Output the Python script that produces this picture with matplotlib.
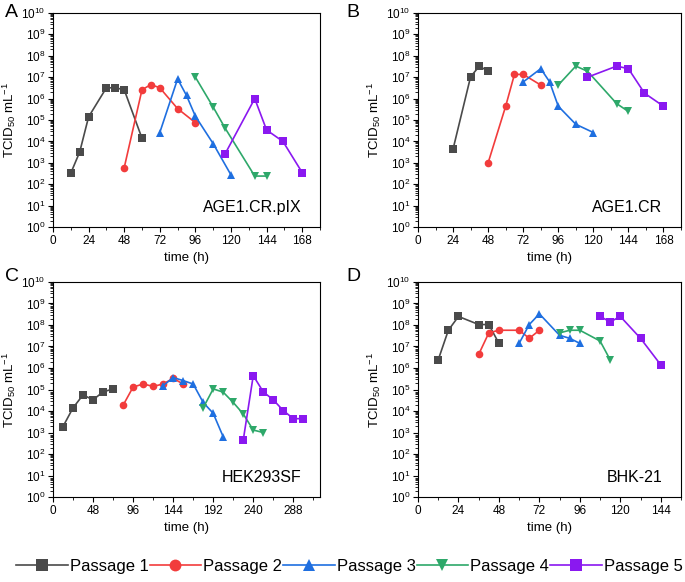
import matplotlib
matplotlib.use("Agg")
import matplotlib.pyplot as plt
from matplotlib.ticker import MultipleLocator, LogLocator, NullFormatter

plt.rcParams['font.family'] = ['Liberation Sans', 'DejaVu Sans']
plt.rcParams['mathtext.fontset'] = 'custom'
plt.rcParams['mathtext.rm'] = 'Liberation Sans'
plt.rcParams['mathtext.it'] = 'Liberation Sans'

passages = ["Passage 1", "Passage 2", "Passage 3", "Passage 4", "Passage 5"]
colors = ["#4a4a4a", "#f23c3c", "#1f6fe0", "#2ea86a", "#8a18f0"]
markers = ["s", "o", "^", "v", "s"]

# Panel A: AGE1.CR.pIX
a_t = [[12, 18, 24, 36, 42, 48, 60],
       [48, 60, 66, 72, 84, 96],
       [72, 84, 90, 96, 108, 120],
       [96, 108, 116, 136, 144],
       [116, 136, 144, 155, 168]]
a_v = [[330, 3200, 1.4e5, 3.2e6, 3.2e6, 2.6e6, 1.4e4],
       [590, 2.6e6, 4.5e6, 3.2e6, 3.4e5, 7.5e4],
       [2.6e4, 8.3e6, 1.4e6, 1.5e5, 7.8e3, 270],
       [1e7, 4e5, 4.2e4, 240, 240],
       [2.6e3, 1e6, 3.4e4, 1e4, 350]]

# Panel B: AGE1.CR
b_t = [[24, 36, 42, 48],
       [48, 60, 66, 72, 84],
       [72, 84, 90, 96, 108, 120],
       [96, 108, 116, 136, 144],
       [116, 136, 144, 155, 168]]
b_v = [[4.4e3, 1.05e7, 3.3e7, 1.9e7],
       [1e3, 4.4e5, 1.35e7, 1.35e7, 4.3e6],
       [6e6, 2.5e7, 6.2e6, 4.4e5, 6.3e4, 2.6e4],
       [4.3e6, 3.3e7, 1.9e7, 5.8e5, 2.5e5],
       [1e7, 3.3e7, 2.5e7, 1.8e6, 4.4e5]]

# Panel C: HEK293SF
c_t = [[12, 24, 36, 48, 60, 72],
       [84, 96, 108, 120, 132, 144, 156],
       [132, 144, 156, 168, 180, 192, 204],
       [180, 192, 204, 216, 228, 240, 252],
       [228, 240, 252, 264, 276, 288, 300]]
c_v = [[1.9e3, 1.4e4, 5.6e4, 3.3e4, 7.8e4, 1.05e5],
       [1.85e4, 1.3e5, 1.8e5, 1.4e5, 1.8e5, 3.3e5, 1.8e5],
       [1.5e5, 3.6e5, 2.6e5, 1.8e5, 2.5e4, 7.8e3, 630],
       [1.4e4, 1.07e5, 7.5e4, 2.5e4, 7.3e3, 1.3e3, 1e3],
       [440, 4.4e5, 7.8e4, 3.3e4, 1.05e4, 4.4e3, 4.4e3]]

# Panel D: BHK-21
d_t = [[12, 18, 24, 36, 42, 48],
       [36, 42, 48, 60, 66, 72],
       [60, 66, 72, 84, 90, 96],
       [84, 90, 96, 108, 114],
       [108, 114, 120, 132, 144]]
d_v = [[2.4e6, 5.7e7, 2.5e8, 1.05e8, 1.05e8, 1.4e7],
       [4.3e6, 4.3e7, 5.7e7, 5.7e7, 2.4e7, 5.7e7],
       [1.4e7, 1.05e8, 3.3e8, 3.3e7, 2.4e7, 1.4e7],
       [4.3e7, 5.7e7, 5.7e7, 1.8e7, 2.4e6],
       [2.5e8, 1.4e8, 2.5e8, 2.4e7, 1.4e6]]

panels = [
    ("A", "AGE1.CR.pIX", a_t, a_v, (0, 180), list(range(0, 169, 24)), 12),
    ("B", "AGE1.CR", b_t, b_v, (0, 180), list(range(0, 169, 24)), 12),
    ("C", "HEK293SF", c_t, c_v, (0, 320), list(range(0, 289, 48)), 24),
    ("D", "BHK-21", d_t, d_v, (0, 156), list(range(0, 145, 24)), 12),
]

W, H = 685, 582
fig = plt.figure(figsize=(W / 100, H / 100), dpi=100)

boxes = [(53, 13, 320, 227), (418, 13, 681, 227), (53, 282, 320, 497), (418, 282, 681, 497)]
letter_pos = [(5, 4), (346, 4), (5, 268), (346, 268)]

handles = []
for i, (letter, name, ts, vs, xlim, xticks, xminor) in enumerate(panels):
    l, t, r, b = boxes[i]
    ax = fig.add_axes([l / W, 1 - b / H, (r - l) / W, (b - t) / H])
    for k in range(5):
        h, = ax.plot(ts[k], vs[k], color=colors[k], marker=markers[k], ms=5.5,
                     lw=1.2, markeredgewidth=0, label=passages[k])
        if i == 0:
            handles.append(h)
    ax.set_yscale("log")
    ax.set_ylim(1, 1e10)
    ax.set_xlim(*xlim)
    ax.set_yticks([10 ** e for e in range(11)])
    ax.set_yticklabels([r"$10^{%d}$" % e for e in range(11)])
    ax.yaxis.set_minor_locator(LogLocator(base=10, subs=range(2, 10), numticks=20))
    ax.yaxis.set_minor_formatter(NullFormatter())
    ax.set_xticks(xticks)
    ax.xaxis.set_minor_locator(MultipleLocator(xminor))
    ax.tick_params(axis="both", which="major", labelsize=8.5, length=3.5, width=0.8, pad=2)
    ax.tick_params(axis="both", which="minor", length=2, width=0.6)
    for s in ax.spines.values():
        s.set_linewidth(0.8)
    ax.set_xlabel("time (h)", fontsize=9.5, labelpad=4)
    ax.set_ylabel(r"TCID$_{50}$ mL$^{-1}$", fontsize=9.5, labelpad=2)
    ax.text(0.93, 0.055, name, transform=ax.transAxes, ha="right", va="bottom", fontsize=11.5)
    lx, ly = letter_pos[i]
    fig.text(lx / W, 1 - ly / H, letter, ha="left", va="top", fontsize=14)

fig.legend(handles=handles, loc="center", bbox_to_anchor=(0.51, 1 - 566 / H), ncol=5,
           frameon=False, fontsize=12, handlelength=3.1, handletextpad=0.12,
           columnspacing=0.05, markerscale=1.55, borderpad=0.2)

fig.savefig("out.png", dpi=100)
